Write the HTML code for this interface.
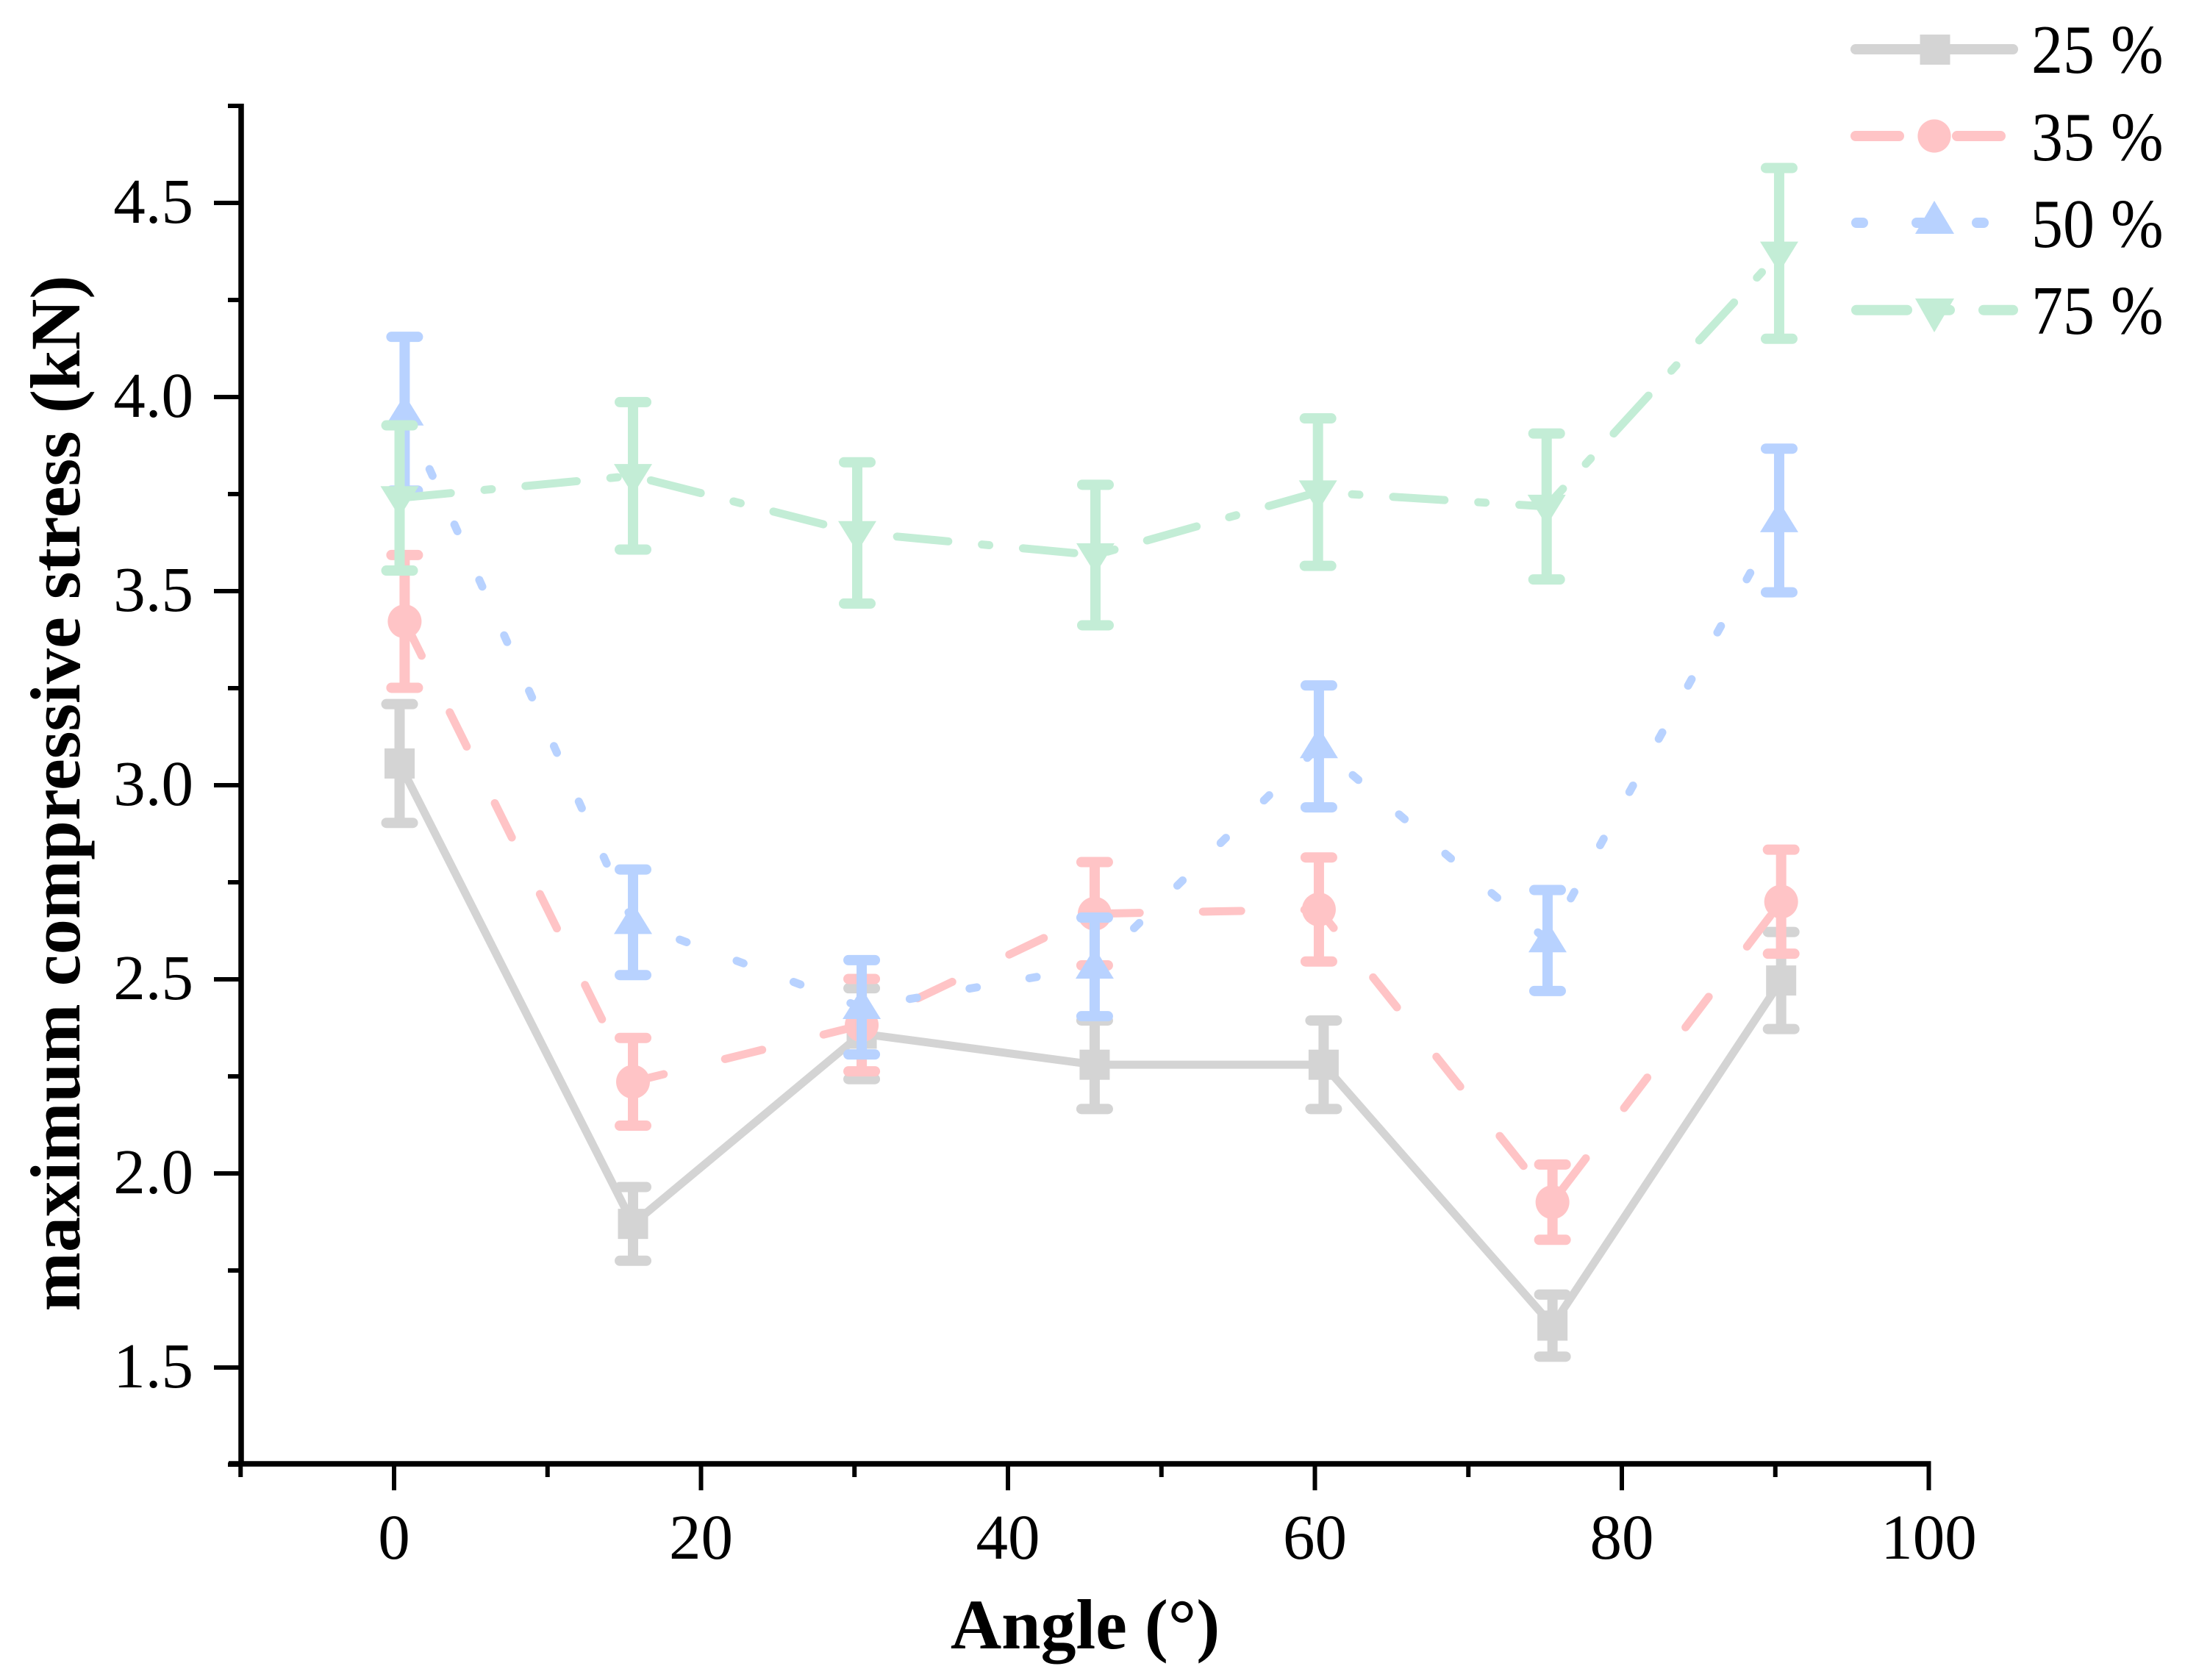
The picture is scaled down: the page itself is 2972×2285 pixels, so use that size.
<!DOCTYPE html>
<html>
<head>
<meta charset="utf-8">
<title>Maximum compressive stress vs angle</title>
<style>
html,body{margin:0;padding:0;background:#fff;}
svg{display:block;}
text{font-family:"Liberation Serif",serif;fill:#000;}
</style>
</head>
<body>
<svg id="chart" xmlns="http://www.w3.org/2000/svg" width="2972" height="2285" viewBox="0 0 2972 2285">
  <rect width="2972" height="2285" fill="#fff"/>
  <g id="series-layer"></g>
  <g id="axis-layer"></g>
  <text transform="translate(108,1079) rotate(-90)" text-anchor="middle" font-size="96.5" font-weight="bold">maximum compressive stress (kN)</text>
  <text x="1476" y="2242" text-anchor="middle" font-size="96" font-weight="bold">Angle (°)</text>
  <g>
    <g>
      <line x1="2524" y1="67" x2="2738" y2="67" stroke="#d4d4d4" stroke-width="14" stroke-linecap="round"/>
      <rect x="2611.5" y="47" width="41" height="41" fill="#d4d4d4"/>
      <text transform="translate(2763,99) scale(1,1.1)" font-size="86">25</text>
      <text transform="translate(2871,99) scale(1,1.1)" font-size="86">%</text>
    </g>
    <g>
      <line x1="2524" y1="185" x2="2722" y2="185" stroke="#ffc4c6" stroke-width="14" stroke-linecap="round" stroke-dasharray="59 79"/>
      <circle cx="2631" cy="185" r="22.6" fill="#ffc4c6"/>
      <text transform="translate(2763,218) scale(1,1.1)" font-size="86">35</text>
      <text transform="translate(2871,218) scale(1,1.1)" font-size="86">%</text>
    </g>
    <g>
      <line x1="2525" y1="303" x2="2700" y2="303" stroke="#b8d2ff" stroke-width="14" stroke-linecap="round" stroke-dasharray="9 73"/>
      <polygon points="2631,273 2658,318 2605,318" fill="#b8d2ff"/>
      <text transform="translate(2763,336) scale(1,1.1)" font-size="86">50</text>
      <text transform="translate(2871,336) scale(1,1.1)" font-size="86">%</text>
    </g>
    <g>
      <line x1="2525" y1="421.7" x2="2738" y2="421.7" stroke="#c3edd6" stroke-width="14" stroke-linecap="round" stroke-dasharray="69 46 12 46"/>
      <polygon points="2605,406 2658,406 2631,452" fill="#c3edd6"/>
      <text transform="translate(2763,454) scale(1,1.1)" font-size="86">75</text>
      <text transform="translate(2871,454) scale(1,1.1)" font-size="86">%</text>
    </g>
  </g>
</svg>
<script>
// Chart data (angle in degrees, stress in kN)
var angle25 = [0.36, 15.57, 30.47, 45.65, 60.57, 75.48, 90.38];
var stress25 = [3.056, 1.87, 2.36, 2.28, 2.28, 1.608, 2.497];
var error25 = [0.153, 0.095, 0.117, 0.114, 0.114, 0.08, 0.125];

var angle35 = [0.69, 15.57, 30.47, 45.65, 60.26, 75.48, 90.38];
var stress35 = [3.422, 2.236, 2.382, 2.669, 2.68, 1.926, 2.70];
var error35 = [0.171, 0.113, 0.119, 0.133, 0.134, 0.097, 0.134];

var angle50 = [0.69, 15.57, 30.47, 45.65, 60.26, 75.16, 90.25];
var stress50 = [3.957, 2.647, 2.428, 2.532, 3.10, 2.60, 3.682];
var error50 = [0.198, 0.136, 0.1215, 0.127, 0.157, 0.13, 0.185];

var angle75 = [0.36, 15.57, 30.18, 45.7, 60.2, 75.1, 90.25];
var stress75 = [3.74, 3.797, 3.65, 3.593, 3.755, 3.718, 4.37];
var error75 = [0.187, 0.19, 0.182, 0.181, 0.19, 0.188, 0.22];

var xMajorTicks = [0, 20, 40, 60, 80, 100];
var xMinorTicks = [-10, 10, 30, 50, 70, 90];
var yMajorTicks = [1.5, 2.0, 2.5, 3.0, 3.5, 4.0, 4.5];
var yMinorTicks = [1.25, 1.75, 2.25, 2.75, 3.25, 3.75, 4.25, 4.75];
var yTickLabels = ["1.5", "2.0", "2.5", "3.0", "3.5", "4.0", "4.5"];
var xTickLabels = ["0", "20", "40", "60", "80", "100"];

var NS = "http://www.w3.org/2000/svg";
function xScale(v) { return 536 + v * 20.875; }
function yScale(v) { return 276 + (4.5 - v) * 528; }

function make(tag, attrs, parent) {
  var el = document.createElementNS(NS, tag);
  for (var k in attrs) { el.setAttribute(k, attrs[k]); }
  parent.appendChild(el);
  return el;
}

var axisLayer = document.getElementById("axis-layer");
var seriesLayer = document.getElementById("series-layer");

function drawAxes() {
  var el;
  el = make("line", {x1: 328, y1: 141, x2: 328, y2: 1994, stroke: "#000", "stroke-width": 7.5}, axisLayer);
  
  
  el = make("line", {x1: 311, y1: 1991, x2: xScale(100) + 3, y2: 1991, stroke: "#000", "stroke-width": 7.5}, axisLayer);
  
  

  xMajorTicks.forEach(function (v, i) {
    var t = make("line", {x1: xScale(v), y1: 1991, x2: xScale(v), y2: 2027, stroke: "#000", "stroke-width": 6}, axisLayer);
    
    
    var l = make("text", {x: xScale(v), y: 2120, "text-anchor": "middle", "font-size": 87}, axisLayer);
    l.textContent = xTickLabels[i];
    
    
  });
  xMinorTicks.forEach(function (v) {
    var t = make("line", {x1: xScale(v), y1: 1991, x2: xScale(v), y2: 2009, stroke: "#000", "stroke-width": 6}, axisLayer);
    
    
  });
  yMajorTicks.forEach(function (v, i) {
    var t = make("line", {x1: 291, y1: yScale(v), x2: 328, y2: yScale(v), stroke: "#000", "stroke-width": 6}, axisLayer);
    
    
    var l = make("text", {x: 263, y: yScale(v) + 27, "text-anchor": "end", "font-size": 87}, axisLayer);
    l.textContent = yTickLabels[i];
    
    
  });
  yMinorTicks.forEach(function (v) {
    var t = make("line", {x1: 310, y1: yScale(v), x2: 328, y2: yScale(v), stroke: "#000", "stroke-width": 6}, axisLayer);
    
    
  });
}

function drawMarker(kind, cx, cy, color) {
  var m;
  if (kind === "square") {
    m = make("rect", {x: cx - 20.5, y: cy - 20.5, width: 41, height: 41, fill: color}, seriesLayer);
  } else if (kind === "circle") {
    m = make("circle", {cx: cx, cy: cy, r: 23, fill: color}, seriesLayer);
  } else if (kind === "up") {
    m = make("polygon", {points: cx + "," + (cy - 26) + " " + (cx + 26) + "," + (cy + 16) + " " + (cx - 26) + "," + (cy + 16), fill: color}, seriesLayer);
  } else {
    m = make("polygon", {points: (cx - 26) + "," + (cy - 16) + " " + (cx + 26) + "," + (cy - 16) + " " + cx + "," + (cy + 26), fill: color}, seriesLayer);
  }
  
  
}

function drawSeries(xs, ys, errs, color, dash, kind, lineName) {
  var pts = xs.map(function (x, i) { return xScale(x) + "," + yScale(ys[i]); }).join(" ");
  var attrs = {points: pts, fill: "none", stroke: color, "stroke-width": 11, "stroke-linecap": "round", "stroke-linejoin": "round"};
  if (dash) { attrs["stroke-dasharray"] = dash; }
  var line = make("polyline", attrs, seriesLayer);
  
  

  xs.forEach(function (x, i) {
    var cx = xScale(x);
    var top = yScale(ys[i] + errs[i]);
    var bot = yScale(ys[i] - errs[i]);
    var stem = make("line", {x1: cx, y1: top, x2: cx, y2: bot, stroke: color, "stroke-width": 14}, seriesLayer);
    
    
    var capTop = make("line", {x1: cx - 18, y1: top, x2: cx + 18, y2: top, stroke: color, "stroke-width": 14, "stroke-linecap": "round"}, seriesLayer);
    
    
    var capBot = make("line", {x1: cx - 18, y1: bot, x2: cx + 18, y2: bot, stroke: color, "stroke-width": 14, "stroke-linecap": "round"}, seriesLayer);
    
    
    drawMarker(kind, cx, yScale(ys[i]), color);
  });
}

drawSeries(angle25, stress25, error25, "#d4d4d4", null, "square", "series-line-25");
drawSeries(angle35, stress35, error35, "#ffc4c6", "52 86", "circle", "series-line-35");
drawSeries(angle50, stress50, error50, "#b8d2ff", "10 72.6", "up", "series-line-50");
drawSeries(angle75, stress75, error75, "#c3edd6", "70 46 10 46", "down", "series-line-75");
drawAxes();
</script>
</body>
</html>
